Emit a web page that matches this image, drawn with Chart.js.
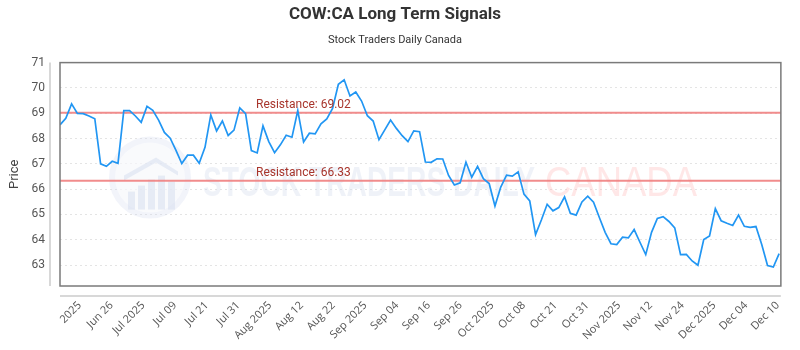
<!DOCTYPE html>
<html>
<head>
<meta charset="utf-8">
<script src="https://cdn.jsdelivr.net/npm/chart.js@4.4.1/dist/chart.umd.min.js"></script>
<style>
  html, body { margin: 0; padding: 0; background: #ffffff; }
  #wrap { width: 800px; height: 350px; }
</style>
</head>
<body>
<div id="wrap"><canvas id="c" width="800" height="350"></canvas></div>
<script>
// ---- data ----
const prices = [
  68.54, 68.80, 69.37, 68.99, 68.98, 68.89, 68.78, 67.00, 66.90, 67.10,
  67.02, 69.10, 69.10, 68.89, 68.64, 69.27, 69.11, 68.73, 68.24, 68.01,
  67.53, 67.01, 67.34, 67.34, 67.02, 67.65, 68.93, 68.30, 68.69, 68.12,
  68.33, 69.21, 68.98, 67.52, 67.43, 68.50, 67.88, 67.44, 67.75, 68.13,
  68.05, 69.10, 67.86, 68.21, 68.18, 68.58, 68.77, 69.19, 70.14, 70.32,
  69.68, 69.84, 69.48, 68.90, 68.69, 67.95, 68.34, 68.73, 68.40, 68.11,
  67.88, 68.30, 68.27, 67.07, 67.06, 67.20, 67.19, 66.54, 66.16, 66.25,
  67.06, 66.47, 66.90, 66.41, 66.22, 65.33, 66.08, 66.55, 66.51, 66.68,
  65.80, 65.53, 64.20, 64.78, 65.40, 65.14, 65.27, 65.69, 65.04, 64.97,
  65.49, 65.72, 65.48, 64.88, 64.29, 63.84, 63.81, 64.10, 64.07, 64.40,
  63.90, 63.41, 64.29, 64.84, 64.91, 64.72, 64.47, 63.41, 63.42, 63.16,
  62.99, 64.01, 64.15, 65.23, 64.75, 64.65, 64.56, 64.97, 64.53, 64.49,
  64.52, 63.81, 62.98, 62.92, 63.45
];
const tickLabels = [
  "2025", "Jun 26", "Jul 2025", "Jul 09", "Jul 21", "Jul 31", "Aug 2025", "Aug 12",
  "Aug 22", "Sep 2025", "Sep 04", "Sep 16", "Sep 26", "Oct 2025", "Oct 08", "Oct 21",
  "Oct 31", "Nov 2025", "Nov 12", "Nov 24", "Dec 2025", "Dec 04", "Dec 10"
];
const resistanceLevels = [69.02, 66.33];
const resistanceNames = ["Resistance: 69.02", "Resistance: 66.33"];
const yTickValues = [63, 64, 65, 66, 67, 68, 69, 70, 71];
const yMin = 62.17, yMax = 71;
const xMax = 124.3;
const firstTickIndex = 3.4, tickIndexStep = 5.47;

// ---- build ----
const priceData = prices.map((p, i) => ({ x: i, y: p }));
const resistanceSets = resistanceLevels.map(r => ({
  data: [{ x: 0, y: r }, { x: xMax, y: r }],
  borderColor: 'rgba(240,128,128,0.9)',
  borderWidth: 2,
  pointRadius: 0,
  fill: false,
  order: 2
}));

const decor = {
  id: 'decor',
  beforeDatasetsDraw(chart) {
    const { ctx, chartArea: a } = chart;
    ctx.save();
    // logo watermark
    const cx = a.left + 90, cy = a.top + 115;
    ctx.fillStyle = 'rgba(214,222,240,0.32)';
    ctx.beginPath(); ctx.arc(cx, cy, 41, 0, Math.PI * 2); ctx.fill();
    ctx.fillStyle = 'rgba(255,255,255,0.55)';
    ctx.beginPath(); ctx.arc(cx, cy, 35, 0, Math.PI * 2); ctx.fill();
    ctx.fillStyle = 'rgba(205,214,235,0.42)';
    ctx.beginPath();
    ctx.moveTo(cx - 26, cy - 2); ctx.lineTo(cx + 6, cy - 20); ctx.lineTo(cx + 28, cy - 6);
    ctx.lineTo(cx + 28, cy - 2); ctx.lineTo(cx + 6, cy - 15); ctx.lineTo(cx - 26, cy + 3);
    ctx.closePath(); ctx.fill();
    [[-22, 8], [-12, 2], [-2, -4], [8, -8], [18, -2]].forEach(([dx, top]) => {
      ctx.fillRect(cx + dx, cy + top + 6, 7, 26 - top);
    });
    // text watermark
    ctx.textBaseline = 'alphabetic';
    ctx.font = 'bold 42px "Liberation Sans Narrow", "Liberation Sans", sans-serif';
    let t = 'STOCK TRADERS DAILY';
    let w = ctx.measureText(t).width;
    ctx.save();
    ctx.translate(a.left + 143, a.top + 133);
    ctx.scale(332 / w, 1);
    ctx.fillStyle = 'rgba(208,216,234,0.34)';
    ctx.fillText(t, 0, 0);
    ctx.restore();
    ctx.font = '42px "Liberation Sans", sans-serif';
    t = 'CANADA';
    w = ctx.measureText(t).width;
    ctx.save();
    ctx.translate(a.left + 485, a.top + 133);
    ctx.scale(152 / w, 1);
    ctx.fillStyle = 'rgba(255,170,170,0.28)';
    ctx.fillText(t, 0, 0);
    ctx.restore();
    ctx.restore();
  },
  afterDatasetsDraw(chart) {
    const { ctx, chartArea: a, scales } = chart;
    ctx.save();
    ctx.font = '12px Roboto, sans-serif';
    ctx.fillStyle = '#a8352c';
    ctx.textAlign = 'left';
    ctx.textBaseline = 'alphabetic';
    resistanceLevels.forEach((r, i) => {
      const y = scales.y.getPixelForValue(r);
      ctx.fillText(resistanceNames[i], a.left + 196, y - 5);
    });
    ctx.restore();
  },
  afterDraw(chart) {
    const { ctx, chartArea: a } = chart;
    ctx.save();
    ctx.strokeStyle = '#cccccc';
    ctx.lineWidth = 1.5;
    ctx.beginPath();
    ctx.moveTo(a.left - 10, a.top); ctx.lineTo(a.left - 10, a.bottom);
    ctx.moveTo(a.left, a.bottom + 10); ctx.lineTo(a.right, a.bottom + 10);
    ctx.stroke();
    ctx.strokeStyle = '#7a7a7a';
    ctx.lineWidth = 1.5;
    ctx.strokeRect(a.left, a.top, a.right - a.left, a.bottom - a.top);
    ctx.restore();
  }
};

new Chart(document.getElementById('c'), {
  type: 'line',
  data: {
    datasets: [
      {
        data: priceData,
        borderColor: 'rgb(33,150,243)',
        borderWidth: 1.7,
        pointRadius: 0,
        tension: 0,
        fill: false,
        order: 1
      },
      ...resistanceSets
    ]
  },
  options: {
    responsive: false,
    animation: false,
    events: [],
    layout: { padding: { left: 0, right: 10, top: 0, bottom: 0 } },
    plugins: {
      legend: { display: false },
      tooltip: { enabled: false },
      title: {
        display: true,
        text: 'COW:CA Long Term Signals',
        color: '#333333',
        font: { family: 'Roboto', size: 17, weight: 'bold', lineHeight: 1.2 },
        padding: { top: 5, bottom: 7 }
      },
      subtitle: {
        display: true,
        text: 'Stock Traders Daily Canada',
        color: '#333333',
        font: { family: 'Roboto', size: 11, lineHeight: 1.2 },
        padding: { top: 1, bottom: 16 }
      }
    },
    scales: {
      x: {
        type: 'linear',
        min: 0,
        max: xMax,
        grid: { display: false, drawTicks: false },
        border: { display: false },
        afterBuildTicks: s => { s.ticks = tickLabels.map((_, j) => ({ value: firstTickIndex + j * tickIndexStep })); },
        afterFit: s => { s.height = 64; },
        ticks: {
          autoSkip: false,
          maxRotation: 45,
          minRotation: 45,
          padding: 13,
          color: '#555555',
          font: { family: '"Open Sans"', size: 11 },
          callback: (v, i) => tickLabels[i]
        }
      },
      y: {
        min: yMin,
        max: yMax,
        afterBuildTicks: s => { s.ticks = yTickValues.map(v => ({ value: v })); },
        afterFit: s => { s.width = 60; },
        grid: { color: '#e4e4e4', lineWidth: 1, drawTicks: false },
        border: { display: false, dash: [2, 3] },
        ticks: {
          padding: 15,
          color: '#555555',
          font: { family: 'Roboto', size: 12 },
          callback: v => String(v)
        },
        title: {
          display: true,
          text: 'Price',
          color: '#444444',
          font: { family: 'Roboto', size: 13 },
          padding: { top: 7, bottom: 0 }
        }
      }
    }
  },
  plugins: [decor]
});
</script>
</body>
</html>
